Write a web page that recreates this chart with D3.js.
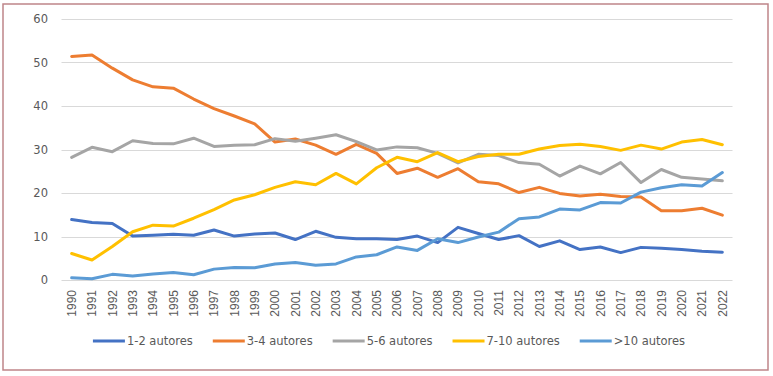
<!DOCTYPE html>
<html><head><meta charset="utf-8">
<script src="https://cdn.jsdelivr.net/npm/d3@7"></script>
<style>
html,body{margin:0;padding:0;background:#fff;}
svg{display:block;}
</style></head>
<body>
<script>
const years = d3.range(1990, 2023).map(String);
const seriesNames = ["1-2 autores","3-4 autores","5-6 autores","7-10 autores",">10 autores"];
const seriesColors = ["#4472C4","#ED7D31","#A5A5A5","#FFC000","#5B9BD5"];
const a12  = [13.9,13.2,13.0,10.1,10.3,10.5,10.3,11.5,10.1,10.6,10.8,9.3,11.2,9.8,9.5,9.5,9.3,10.1,8.6,12.1,10.7,9.3,10.2,7.7,9.0,7.0,7.6,6.3,7.5,7.3,7.0,6.6,6.4];
const a34  = [51.4,51.7,48.7,46.0,44.4,44.1,41.6,39.4,37.7,35.9,31.7,32.4,31.0,28.9,31.2,29.1,24.5,25.7,23.6,25.6,22.6,22.1,20.1,21.3,19.9,19.3,19.7,19.2,19.1,15.9,15.9,16.5,14.9];
const a56  = [28.2,30.5,29.5,32.0,31.4,31.3,32.6,30.7,31.0,31.1,32.5,31.9,32.6,33.4,31.8,29.9,30.6,30.4,29.1,26.9,28.9,28.6,27.0,26.6,23.9,26.2,24.4,27.0,22.4,25.4,23.6,23.2,22.8];
const a710 = [6.1,4.6,7.7,11.1,12.6,12.4,14.2,16.2,18.4,19.6,21.3,22.6,21.9,24.5,22.1,25.8,28.2,27.2,29.3,27.2,28.4,28.9,28.9,30.1,30.9,31.2,30.7,29.8,31.0,30.1,31.7,32.3,31.1];
const a10p = [0.5,0.3,1.3,0.9,1.4,1.7,1.2,2.5,2.9,2.8,3.7,4.0,3.4,3.7,5.3,5.8,7.6,6.8,9.5,8.6,9.9,11.0,14.1,14.5,16.3,16.1,17.8,17.7,20.2,21.2,21.9,21.6,24.7];
const yTicks = [0,10,20,30,40,50,60];

const seriesValues = [a12, a34, a56, a710, a10p];

const W = 773, H = 376;
const svg = d3.select("body").append("svg").attr("width", W).attr("height", H);

// outer border
svg.append("rect").attr("x", 3).attr("y", 4).attr("width", 765).attr("height", 366)
  .attr("fill", "#fff").attr("stroke", "#bf8589").attr("stroke-width", 1.5);

const x = d3.scaleBand().domain(years).range([61.5, 732.5]);
const y = d3.scaleLinear().domain([0, 60]).range([280, 19]);

// gridlines
svg.append("g").selectAll("line").data(yTicks).join("line")
  .attr("x1", x.range()[0]).attr("x2", x.range()[1])
  .attr("y1", d => Math.round(y(d)) + 0.5).attr("y2", d => Math.round(y(d)) + 0.5)
  .attr("stroke", "#d9d9d9").attr("stroke-width", 1);

// y axis labels
const yAxis = d3.axisLeft(y).tickValues(yTicks).tickSize(0).tickPadding(0);
const gy = svg.append("g").attr("transform", "translate(48,0)").call(yAxis);
gy.select(".domain").remove();
gy.selectAll("text").attr("fill", "#595959")
  .style("font-family", "'DejaVu Sans', sans-serif").style("font-size", "11.5px");

// x axis labels
const xAxis = d3.axisBottom(x).tickSize(0).tickPadding(0);
const gx = svg.append("g").attr("transform", "translate(0,290)").call(xAxis);
gx.select(".domain").remove();
gx.selectAll("text")
  .attr("fill", "#595959")
  .attr("transform", "rotate(-90)")
  .attr("x", 0).attr("y", 0).attr("dy", "0.35em")
  .attr("text-anchor", "end")
  .style("font-family", "'Liberation Sans', Arial, sans-serif").style("font-size", "12px");

// lines
const line = d3.line()
  .x((d, i) => x(years[i]) + x.bandwidth() / 2)
  .y(d => y(d));

svg.append("g").selectAll("path").data(seriesValues).join("path")
  .attr("d", d => line(d))
  .attr("fill", "none")
  .attr("stroke", (d, i) => seriesColors[i])
  .attr("stroke-width", 3)
  .attr("stroke-linejoin", "round")
  .attr("stroke-linecap", "round");

// legend
const legend = svg.append("g");
const items = legend.selectAll("g").data(seriesNames).join("g");
items.append("line").attr("x1", 0).attr("x2", 32).attr("y1", 0).attr("y2", 0)
  .attr("stroke", (d, i) => seriesColors[i]).attr("stroke-width", 3);
items.append("text").attr("x", 34).attr("y", 0).attr("dy", "0.35em")
  .text(d => d).attr("fill", "#595959")
  .style("font-family", "'DejaVu Sans', sans-serif").style("font-size", "11.5px");
let cx = 0; const gap = 20; const pos = [];
items.each(function () {
  const w = 34 + this.querySelector("text").getComputedTextLength();
  pos.push(cx); cx += w + gap;
});
const total = cx - gap;
const start = 389 - total / 2;
items.attr("transform", (d, i) => `translate(${start + pos[i]},341)`);
</script>
</body></html>
